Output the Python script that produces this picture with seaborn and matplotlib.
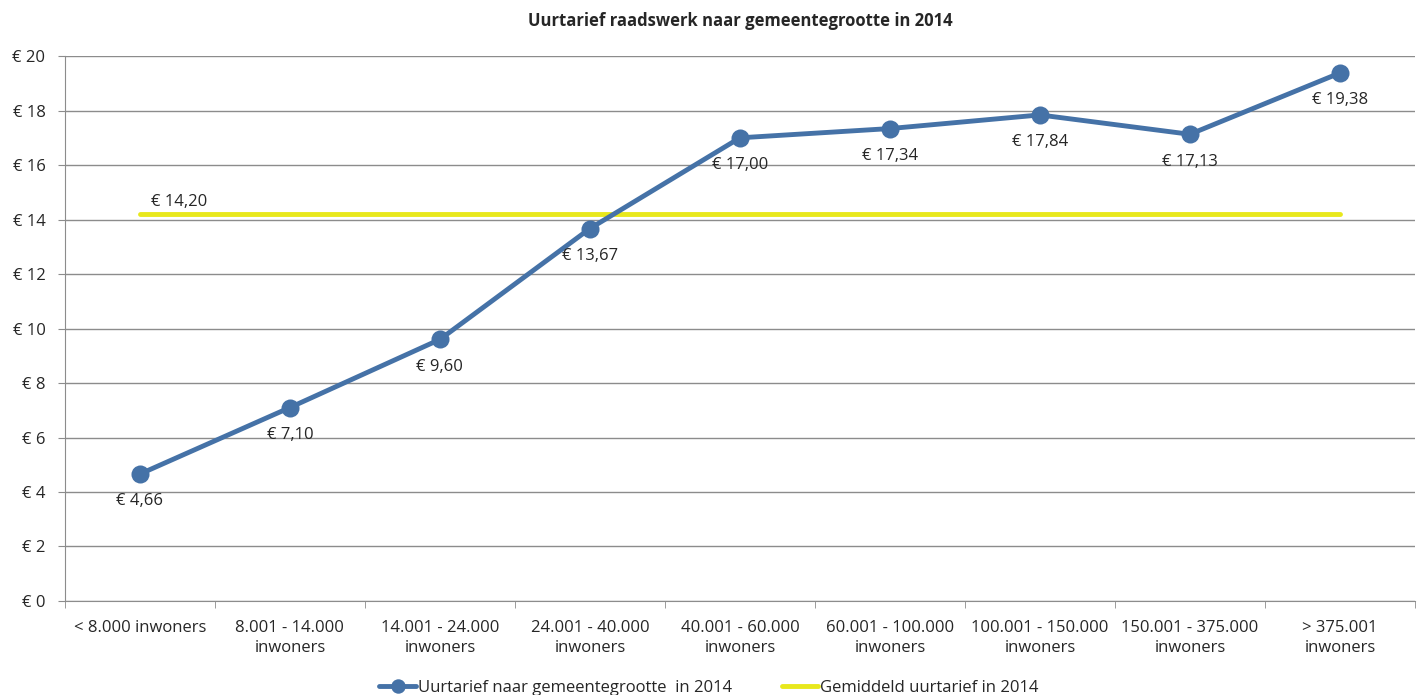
import matplotlib
matplotlib.use("Agg")
import matplotlib.pyplot as plt
import seaborn as sns
import pandas as pd
from matplotlib.ticker import FixedLocator

categories = ["< 8.000 inwoners", "8.001 - 14.000\ninwoners", "14.001 - 24.000\ninwoners",
              "24.001 - 40.000\ninwoners", "40.001 - 60.000\ninwoners", "60.001 - 100.000\ninwoners",
              "100.001 - 150.000\ninwoners", "150.001 - 375.000\ninwoners", "> 375.001\ninwoners"]
tarief = [4.66, 7.10, 9.60, 13.67, 17.00, 17.34, 17.84, 17.13, 19.38]
gemiddeld = 14.20
yticks = [0, 2, 4, 6, 8, 10, 12, 14, 16, 18, 20]

sns.set_style("white")
plt.rcParams['font.family'] = ['Open Sans', 'DejaVu Sans']

df = pd.DataFrame({"cat": categories, "tarief": tarief, "gem": [gemiddeld] * len(categories)})

fig = plt.figure(figsize=(14.18, 6.95), dpi=100)
ax = fig.add_axes([0.0458, 0.1353, 0.952, 0.784])

sns.lineplot(data=df, x="cat", y="gem", ax=ax, color="#e8e81c", linewidth=3.5, sort=False,
             label="Gemiddeld uurtarief in 2014", zorder=2)
sns.lineplot(data=df, x="cat", y="tarief", ax=ax, color="#4572a7", linewidth=3.5, sort=False,
             marker="o", markersize=13, markeredgewidth=0,
             label="Uurtarief naar gemeentegrootte  in 2014", zorder=3)

for i, v in enumerate(tarief):
    ax.annotate("€ " + f"{v:.2f}".replace(".", ","), (i, v), xytext=(0, -14),
                textcoords="offset points", ha="center", va="top", fontsize=12)
ax.annotate("€ " + f"{gemiddeld:.2f}".replace(".", ","), (0, gemiddeld), xytext=(8, 3),
            textcoords="offset points", ha="left", va="bottom", fontsize=12)

ax.set_xlim(-0.5, len(categories) - 0.5)
ax.set_ylim(0, 20)
ax.set_yticks(yticks)
ax.set_yticklabels(["€ " + str(t) for t in yticks], fontsize=12)
ax.yaxis.grid(True, color="#8c8c8c", linewidth=1)
ax.set_axisbelow(True)
ax.set_xticks(range(len(categories)))
ax.set_xticklabels(categories, fontsize=12, linespacing=1.3)
ax.tick_params(axis="x", which="major", length=0, pad=14)
ax.xaxis.set_minor_locator(FixedLocator([k - 0.5 for k in range(len(categories) + 1)]))
ax.tick_params(axis="x", which="minor", length=5, color="#8c8c8c", direction="out", bottom=True)
ax.tick_params(axis="y", length=5, color="#8c8c8c", direction="out", left=True, pad=9)
ax.set_xlabel("")
ax.set_ylabel("")
for s in ["top", "right"]:
    ax.spines[s].set_visible(False)
for s in ["left", "bottom"]:
    ax.spines[s].set_color("#8c8c8c")

ax.set_title("Uurtarief raadswerk naar gemeentegrootte in 2014", fontsize=12, fontweight="bold", pad=22)

h, l = ax.get_legend_handles_labels()
fig.legend(h[::-1], l[::-1], loc="center", bbox_to_anchor=(0.5, 0.01), ncol=2, frameon=False,
           fontsize=12, handlelength=2.2, handletextpad=0.1, columnspacing=3.0, markerscale=0.8)
ax.get_legend().remove()

fig.savefig("out.png", dpi=100)
